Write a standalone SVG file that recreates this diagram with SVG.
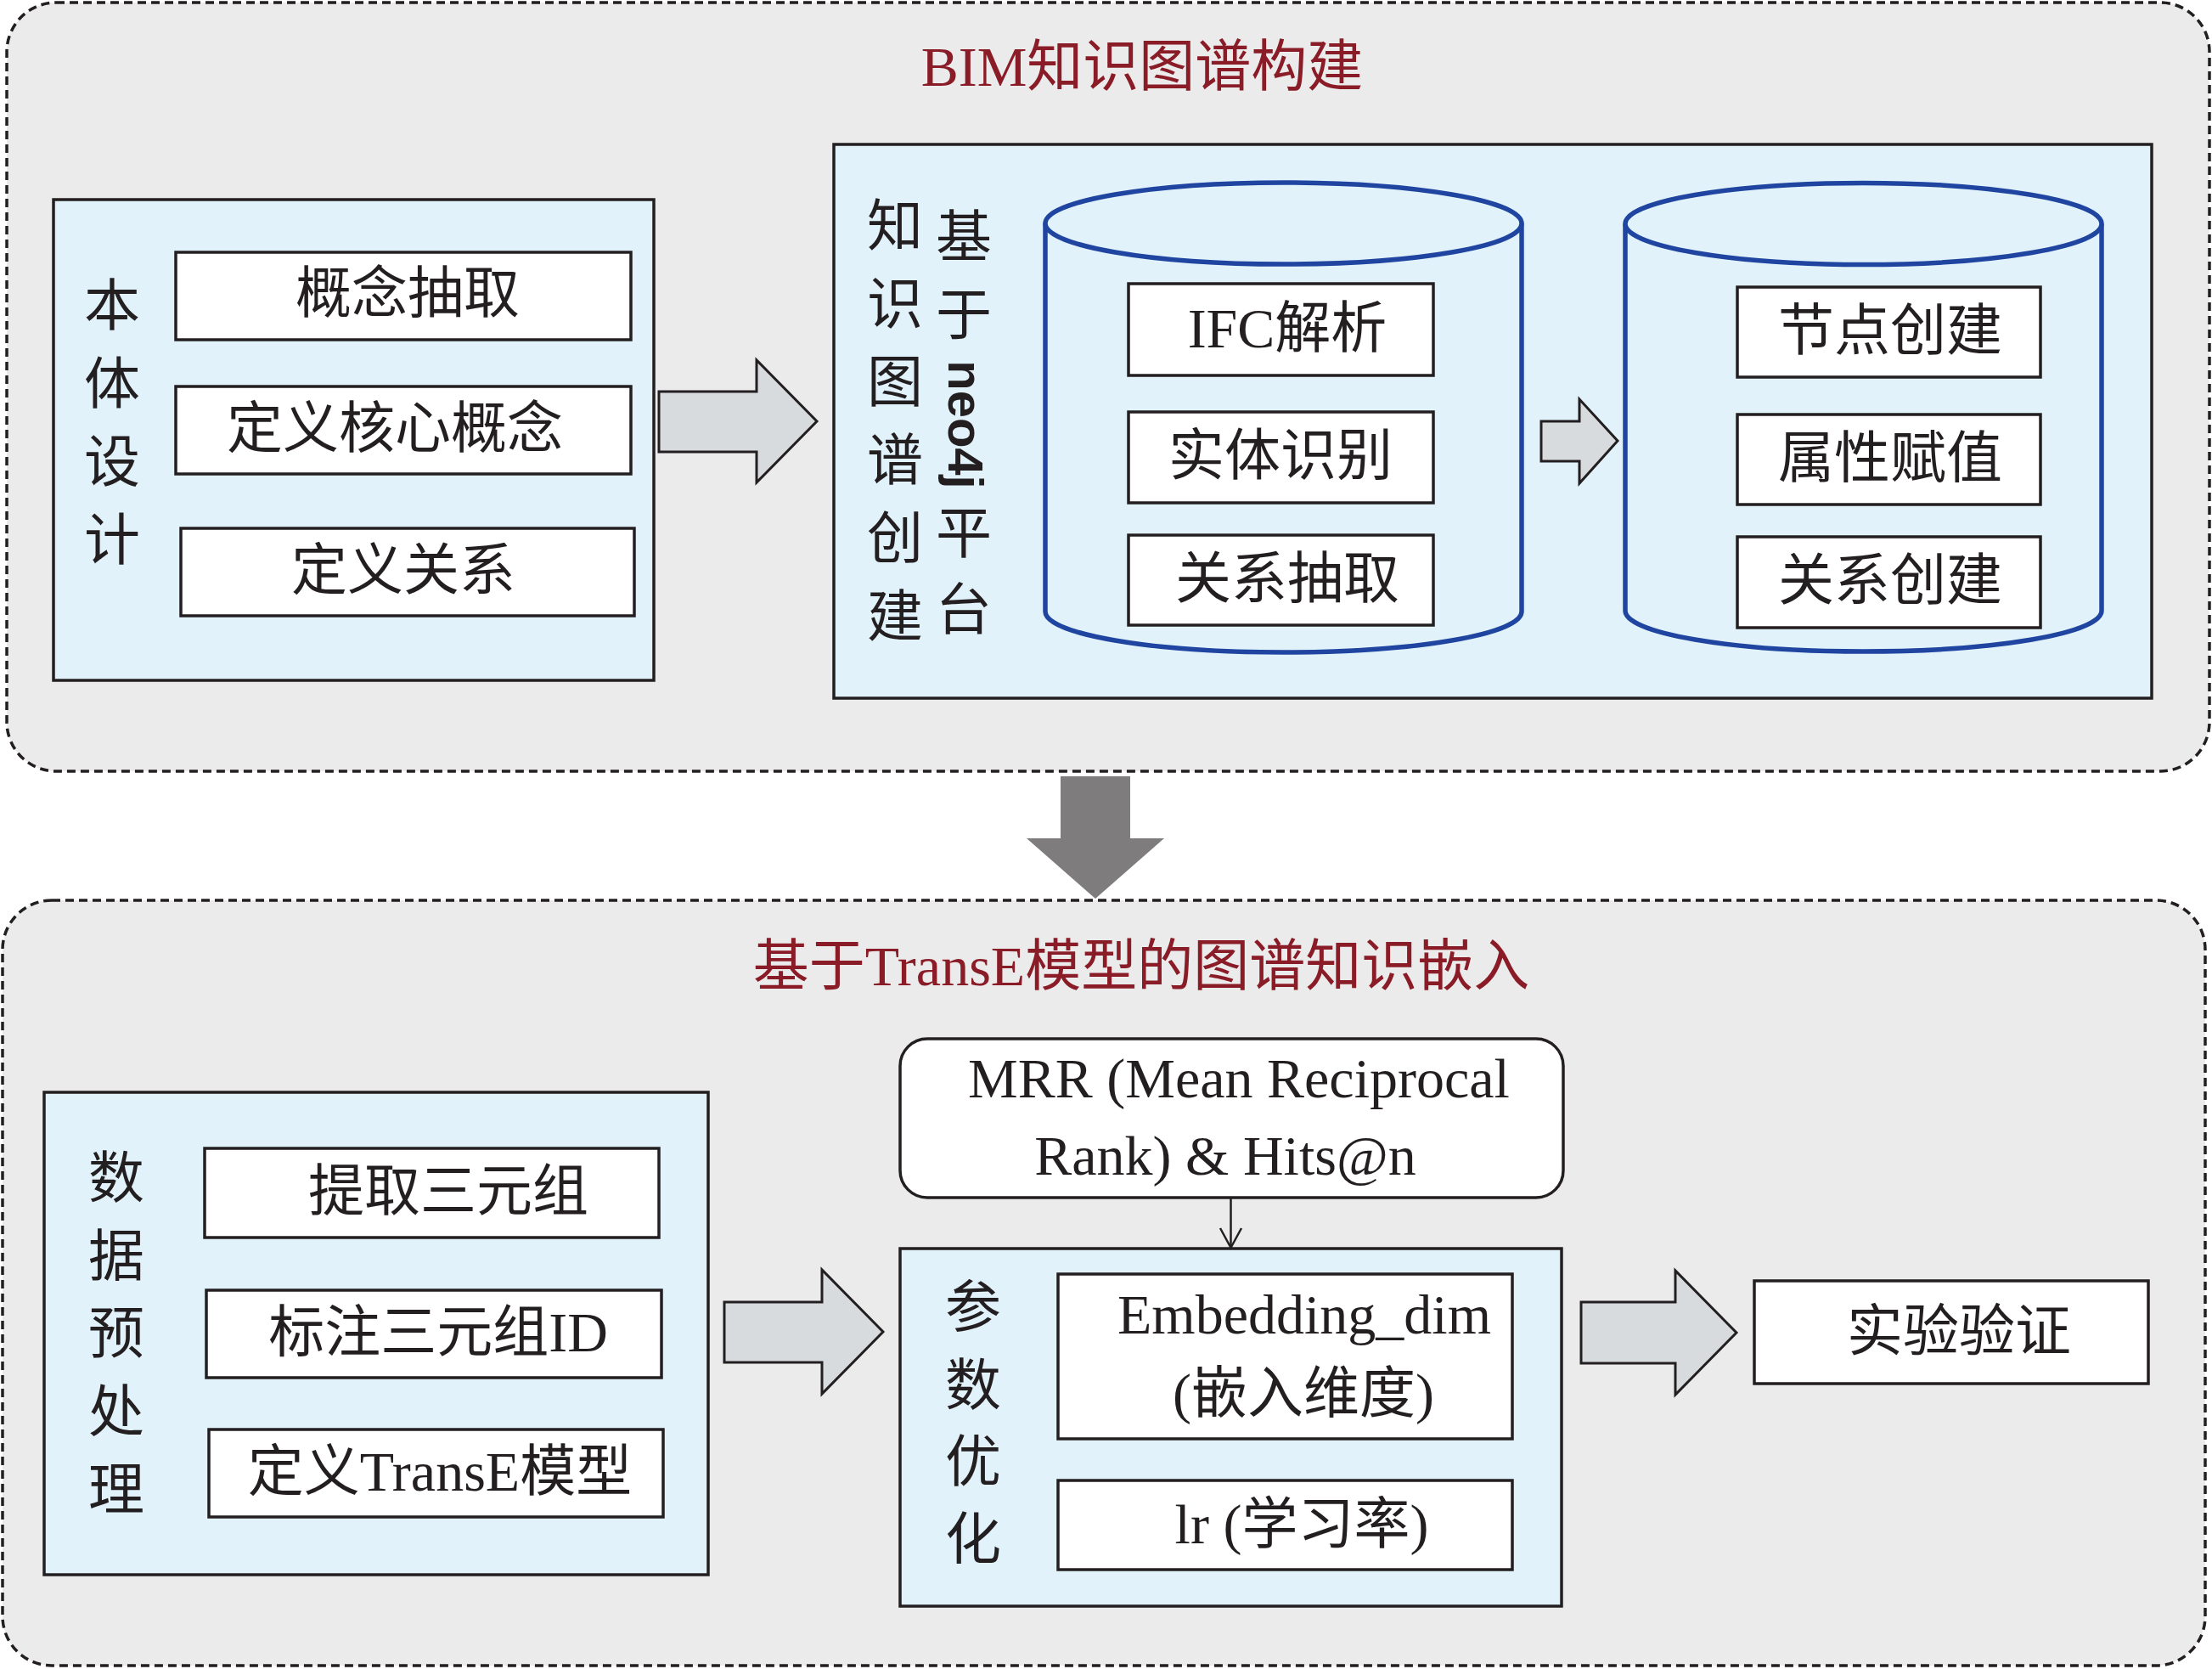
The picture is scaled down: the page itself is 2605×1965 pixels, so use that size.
<svg xmlns="http://www.w3.org/2000/svg" width="2605" height="1965" viewBox="0 0 2605 1965">
<defs>
<style>
.panel{fill:#ebebeb;stroke:#231f20;stroke-width:3.5;stroke-dasharray:10 6}
.blue{fill:#e1f2fb;stroke:#231f20;stroke-width:3.5}
.box{fill:#ffffff;stroke:#231f20;stroke-width:3.5}
.cyl{fill:#e1f2fb;stroke:#1f45a0;stroke-width:5.5}
.garrow{fill:#d8dbde;stroke:#231f20;stroke-width:3}
.t{font-family:"Liberation Serif","Noto Sans CJK SC",serif;font-size:66px;fill:#231f20;text-anchor:middle;dominant-baseline:central}
.sans{font-family:"Liberation Sans",sans-serif;font-size:58px;font-weight:bold}
.title{font-family:"Liberation Serif","Noto Sans CJK SC",serif;font-size:66px;fill:#8a1c28;text-anchor:middle}
.conn{stroke:#231f20;stroke-width:2.5;fill:none}
</style>
</defs>
<rect width="2605" height="1965" fill="#ffffff"/>

<g id="panel-top">
<rect class="panel" x="8" y="3" width="2594" height="905" rx="58"/>
<text class="title" x="1345" y="101">BIM知识图谱构建</text>
</g>

<g id="panel-bottom">
<rect class="panel" x="3" y="1060" width="2594" height="901" rx="58"/>
<text class="title" x="1344" y="1160">基于TransE模型的图谱知识嵌入</text>
</g>

<g id="ontology">
<rect class="blue" x="63" y="235" width="707" height="566"/>
<text class="t" x="132" y="360">本</text>
<text class="t" x="132" y="452">体</text>
<text class="t" x="132" y="544">设</text>
<text class="t" x="132" y="636">计</text>
<rect class="box" x="207" y="297" width="536" height="103"/>
<text class="t" x="480" y="345">概念抽取</text>
<rect class="box" x="207" y="455" width="536" height="103"/>
<text class="t" x="465" y="504">定义核心概念</text>
<rect class="box" x="213" y="622" width="534" height="103"/>
<text class="t" x="475" y="671">定义关系</text>
</g>

<g id="neo4j-panel">
<rect class="blue" x="982" y="170" width="1552" height="652"/>
<text class="t" x="1054" y="266">知</text>
<text class="t" x="1054" y="358">识</text>
<text class="t" x="1054" y="450">图</text>
<text class="t" x="1054" y="542">谱</text>
<text class="t" x="1054" y="634">创</text>
<text class="t" x="1054" y="726">建</text>
<text class="t" x="1135" y="279">基</text>
<text class="t" x="1135" y="371">于</text>
<text class="t sans" transform="translate(1137 500) rotate(90)" x="0" y="0">neo4j</text>
<text class="t" x="1135" y="628">平</text>
<text class="t" x="1135" y="718">台</text>
</g>

<g id="cylinder-ifc">
<path class="cyl" d="M1231,263 L1231,720 A280.5,48 0 0 0 1792,720 L1792,263"/>
<ellipse class="cyl" cx="1511.5" cy="263" rx="280.5" ry="48"/>
<rect class="box" x="1329" y="334" width="359" height="108"/>
<text class="t" x="1516" y="386">IFC解析</text>
<rect class="box" x="1329" y="485" width="359" height="107"/>
<text class="t" x="1508" y="536">实体识别</text>
<rect class="box" x="1329" y="630" width="359" height="106"/>
<text class="t" x="1516" y="681">关系抽取</text>
</g>

<g id="cylinder-graph">
<path class="cyl" d="M1914,263.5 L1914,719 A280.5,48 0 0 0 2475,719 L2475,263.5"/>
<ellipse class="cyl" cx="2194.5" cy="263.5" rx="280.5" ry="48"/>
<rect class="box" x="2046" y="338" width="357" height="106"/>
<text class="t" x="2226" y="389">节点创建</text>
<rect class="box" x="2046" y="488" width="357" height="106"/>
<text class="t" x="2226" y="539">属性赋值</text>
<rect class="box" x="2046" y="632" width="357" height="107"/>
<text class="t" x="2226" y="683">关系创建</text>
</g>

<g id="preprocess">
<rect class="blue" x="52" y="1286" width="782" height="568"/>
<text class="t" x="137" y="1387">数</text>
<text class="t" x="137" y="1479">据</text>
<text class="t" x="137" y="1570">预</text>
<text class="t" x="137" y="1662">处</text>
<text class="t" x="137" y="1754">理</text>
<rect class="box" x="241" y="1352" width="535" height="105"/>
<text class="t" x="528" y="1402">提取三元组</text>
<rect class="box" x="243" y="1519" width="536" height="103"/>
<text class="t" x="516" y="1568">标注三元组ID</text>
<rect class="box" x="246" y="1683" width="535" height="103"/>
<text class="t" x="518" y="1732">定义TransE模型</text>
</g>

<g id="metrics">
<rect class="box" x="1060" y="1223" width="781" height="187" rx="32"/>
<text class="t" x="1459" y="1269">MRR (Mean Reciprocal</text>
<text class="t" x="1443" y="1360">Rank) &amp; Hits@n</text>
</g>

<g id="param-opt">
<rect class="blue" x="1060" y="1470" width="779" height="421"/>
<text class="t" x="1146" y="1539">参</text>
<text class="t" x="1146" y="1631">数</text>
<text class="t" x="1146" y="1721">优</text>
<text class="t" x="1146" y="1812">化</text>
<rect class="box" x="1246" y="1500" width="535" height="194"/>
<text class="t" x="1536" y="1547">Embedding_dim</text>
<text class="t" x="1535" y="1640">(嵌入维度)</text>
<rect class="box" x="1246" y="1743" width="535" height="105"/>
<text class="t" x="1533" y="1794">lr (学习率)</text>
</g>

<g id="validation">
<rect class="box" x="2066" y="1508" width="464" height="121"/>
<text class="t" x="2307" y="1567">实验验证</text>
</g>

<g id="connectors">
<polygon class="garrow" points="776,461 891,461 891,424 962,496 891,568 891,532 776,532"/>
<polygon class="garrow" points="1815,496 1860,496 1860,470 1905,519 1860,569 1860,543 1815,543"/>
<polygon fill="#7f7c7d" points="1249,914 1331,914 1331,987 1371,987 1290,1058 1209,987 1249,987"/>
<polygon class="garrow" points="853,1533 968,1533 968,1495 1040,1568 968,1641 968,1604 853,1604"/>
<polygon class="garrow" points="1862,1533 1973,1533 1973,1496 2045,1569 1973,1642 1973,1605 1862,1605"/>
<line class="conn" x1="1449.5" y1="1410" x2="1449.5" y2="1469"/>
<polyline class="conn" points="1437,1446 1449.5,1469 1462,1446"/>
</g>
</svg>
